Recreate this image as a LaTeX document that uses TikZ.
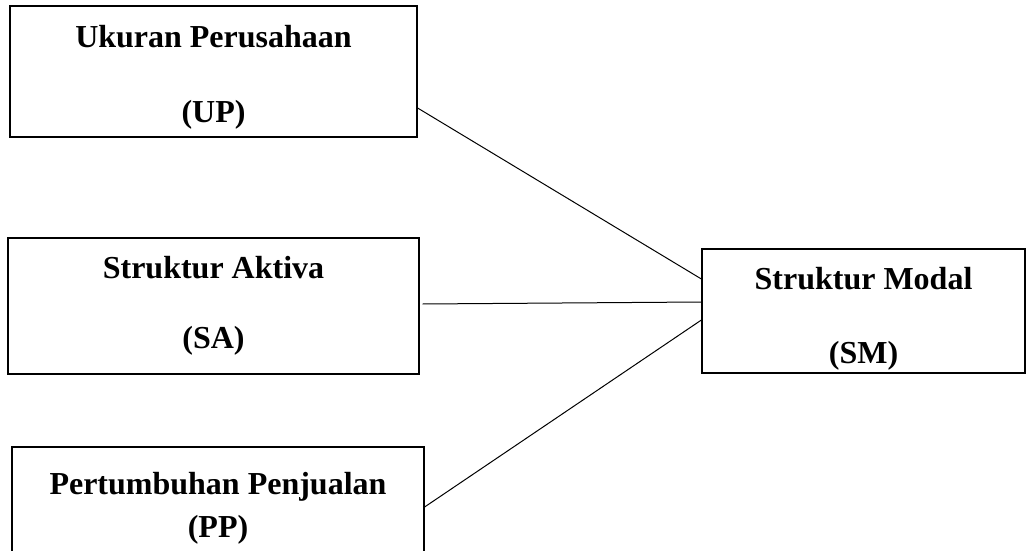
\documentclass[tikz,border=0pt]{standalone}
\usepackage{fontspec}
\setmainfont{Liberation Serif}

\newcommand{\topgap}[1]{\rule{0pt}{#1}}

\tikzset{
  varbox/.style={draw, line width=0.6pt, align=center, inner sep=0pt,
    font=\fontsize{16}{19}\selectfont\bfseries},
  link/.style={line width=0.5pt}
}

\begin{document}
\begin{tikzpicture}[x=0.5pt,y=-0.5pt]

\clip (0,0) rectangle (1028,551);

\node[varbox, minimum width=203.5pt, minimum height=65.5pt] (up) at (213.5,71.5) {\topgap{16.5pt}Ukuran Perusahaan\\[18.5pt](UP)};
\node[varbox, minimum width=205.5pt, minimum height=68pt] (sa) at (213.5,306) {Struktur Aktiva\\[16pt](SA)};
\node[varbox, minimum width=206pt, minimum height=58pt] (pp) at (218,505) {\topgap{14.5pt}Pertumbuhan Penjualan\\[2.5pt](PP)};
\node[varbox, minimum width=161.5pt, minimum height=62pt] (sm) at (863.5,311) {\topgap{18.5pt}Struktur Modal\\[18pt](SM)};

\draw[link] ([yshift=-18.25pt]up.east) -- ([yshift=16pt]sm.west);
\draw[link] ([xshift=1.5pt,yshift=1pt]sa.east) -- ([yshift=4.5pt]sm.west);
\draw[link] ([yshift=-1pt]pp.east) -- ([yshift=-4.5pt]sm.west);

\end{tikzpicture}
\end{document}
